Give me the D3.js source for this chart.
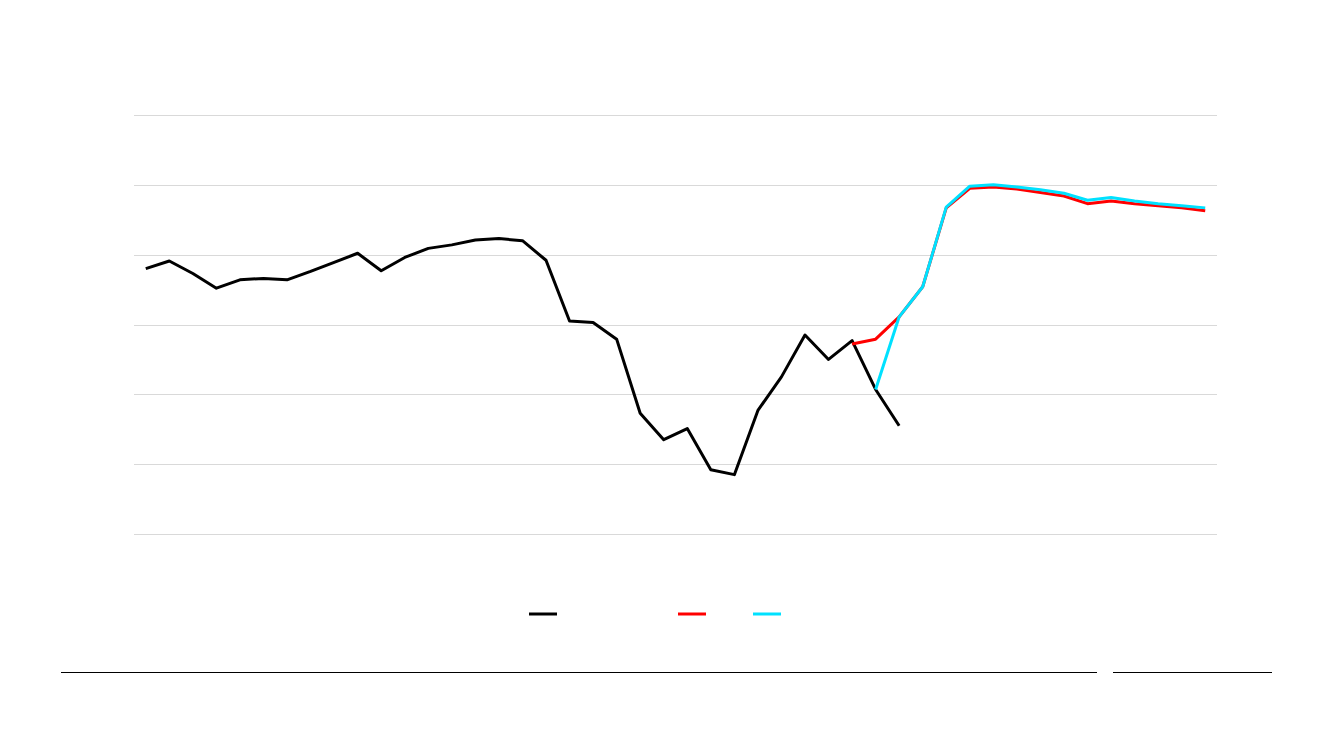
<!DOCTYPE html>
<html>
<head>
<meta charset="utf-8">
<script src="https://cdn.jsdelivr.net/npm/d3@7"></script>
<style>
  html, body { margin: 0; padding: 0; background: #ffffff; }
  svg { display: block; }
</style>
</head>
<body>
<svg id="chart" width="1333" height="750"></svg>
<script>
// 46 periods (unlabelled in the reference)
const categories = d3.range(46).map(i => "P" + (i + 1));

// Gridline tick values (no labels shown in the reference)
const gridTicks = [0, 1, 2, 3, 4, 5, 6];

// Series: actual (black), forecast A (red), forecast B (cyan)
const actualValues = [
  3.80, 3.91, 3.73, 3.52, 3.64, 3.66, 3.64, 3.76, 3.89, 4.02,
  3.77, 3.96, 4.09, 4.14, 4.21, 4.23, 4.20, 3.92, 3.05, 3.03,
  2.79, 1.73, 1.35, 1.51, 0.92, 0.85, 1.77, 2.25, 2.85, 2.50,
  2.77, 2.07, 1.55
];
const forecastAStart = 30;
const forecastAValues = [
  2.72, 2.79, 3.11, 3.54, 4.67, 4.95, 4.97, 4.94, 4.89, 4.84,
  4.73, 4.77, 4.73, 4.70, 4.67, 4.63
];
const forecastBStart = 31;
const forecastBValues = [
  2.07, 3.11, 3.54, 4.68, 4.98, 5.00, 4.97, 4.93, 4.88, 4.78,
  4.82, 4.77, 4.73, 4.70, 4.67
];

const seriesColors = ["#000000", "#ff0000", "#00e1ff"];

const svg = d3.select("#chart");

const x = d3.scalePoint()
  .domain(categories)
  .range([134, 1217])
  .padding(0.5);

const y = d3.scaleLinear()
  .domain([0, 6])
  .range([534, 115]);

// gridlines via axis
const yAxis = d3.axisLeft(y)
  .tickValues(gridTicks)
  .tickSize(-(1217 - 134))
  .tickFormat("");
const gAxis = svg.append("g")
  .attr("transform", "translate(134,0)")
  .call(yAxis);
gAxis.select(".domain").remove();
gAxis.selectAll(".tick line")
  .attr("stroke", "#d9d9d9")
  .attr("stroke-width", 1)
  .attr("shape-rendering", "crispEdges");

const line = d3.line()
  .x(d => x(d.c))
  .y(d => y(d.v))
  .curve(d3.curveLinear);

function toPoints(values, start) {
  return values.map((v, i) => ({ c: categories[start + i], v }));
}

const series = [
  toPoints(actualValues, 0),
  toPoints(forecastAValues, forecastAStart),
  toPoints(forecastBValues, forecastBStart)
];

svg.append("g").selectAll("path")
  .data(series)
  .join("path")
  .attr("d", line)
  .attr("fill", "none")
  .attr("stroke", (d, i) => seriesColors[i])
  .attr("stroke-width", 3)
  .attr("stroke-linejoin", "round")
  .attr("stroke-linecap", "butt");

// legend swatches (no visible labels in the reference)
const legendX = [529, 678, 753];
svg.append("g").selectAll("line")
  .data(seriesColors)
  .join("line")
  .attr("x1", (d, i) => legendX[i])
  .attr("x2", (d, i) => legendX[i] + 28)
  .attr("y1", 614)
  .attr("y2", 614)
  .attr("stroke", d => d)
  .attr("stroke-width", 3);

// footer rules
const footer = [[61, 1097], [1113, 1272]];
svg.append("g").selectAll("line")
  .data(footer)
  .join("line")
  .attr("x1", d => d[0])
  .attr("x2", d => d[1])
  .attr("y1", 672.5)
  .attr("y2", 672.5)
  .attr("stroke", "#000")
  .attr("stroke-width", 1.2);
</script>
</body>
</html>
